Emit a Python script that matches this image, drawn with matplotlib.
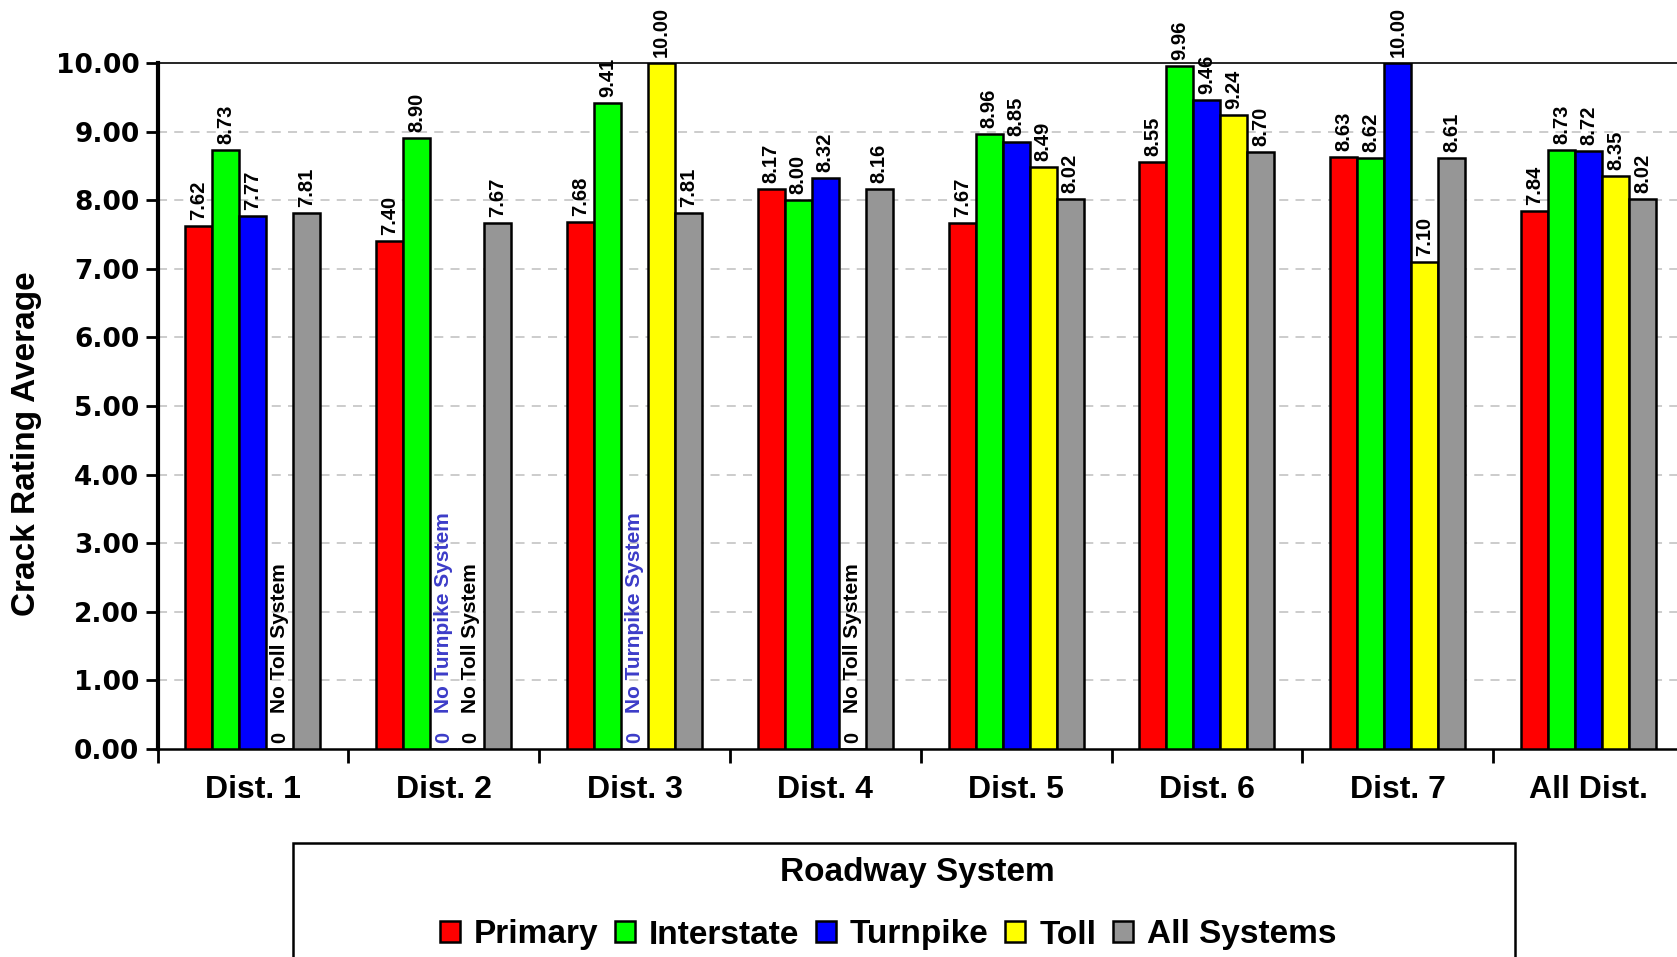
import numpy as np
import matplotlib
matplotlib.use("Agg")
import matplotlib.pyplot as plt
from matplotlib.patches import Rectangle

districts = ['Dist. 1', 'Dist. 2', 'Dist. 3', 'Dist. 4', 'Dist. 5', 'Dist. 6', 'Dist. 7', 'All Dist.']
systems = ['Primary', 'Interstate', 'Turnpike', 'Toll', 'All Systems']
primary = [7.62, 7.40, 7.68, 8.17, 7.67, 8.55, 8.63, 7.84]
interstate = [8.73, 8.90, 9.41, 8.00, 8.96, 9.96, 8.62, 8.73]
turnpike = [7.77, 0, 0, 8.32, 8.85, 9.46, 10.00, 8.72]
toll = [0, 0, 10.00, 0, 8.49, 9.24, 7.10, 8.35]
all_systems = [7.81, 7.67, 7.81, 8.16, 8.02, 8.70, 8.61, 8.02]
colors = ['#ff0000', '#00ff00', '#0000ff', '#ffff00', '#969696']
# text shown where a district has no such system
notes = {2: ('No Turnpike System', '#3c3cc8'), 3: ('No Toll System', 'black')}
yticks = [0, 1, 2, 3, 4, 5, 6, 7, 8, 9, 10]

plt.rcParams['font.family'] = ['Liberation Sans', 'DejaVu Sans']
plt.rcParams['font.weight'] = 'bold'

W, H = 1677, 957
fig = plt.figure(figsize=(W / 100, H / 100), dpi=100)
ax = fig.add_axes([157.5 / W, 1 - 749 / H, 1526.5 / W, 686 / H])

series = [primary, interstate, turnpike, toll, all_systems]
x = np.arange(len(districts))
w = 0.1415
bars = []
for k, vals in enumerate(series):
    pos = x + (k - 2) * w
    b = ax.bar(pos, vals, w, color=colors[k], edgecolor='black', linewidth=1.8, zorder=3)
    bars.append(b)
    for xi, v in zip(pos, vals):
        if v == 0:
            note, col = notes[k]
            ax.annotate('0', (xi, 0), xytext=(0, 6), textcoords='offset pixels',
                        rotation=90, ha='center', va='bottom', fontsize=14.5, color=col,
                        annotation_clip=False)
            ax.annotate(note, (xi, 0), xytext=(0, 36), textcoords='offset pixels',
                        rotation=90, ha='center', va='bottom', fontsize=15, color=col,
                        annotation_clip=False)
        else:
            ax.annotate('%.2f' % v, (xi, v), xytext=(0, 6), textcoords='offset pixels',
                        rotation=90, ha='center', va='bottom', fontsize=14.5,
                        annotation_clip=False)

ax.set_xlim(-0.5, len(districts) - 0.5)
ax.set_ylim(0, 10)
ax.set_yticks(yticks)
ax.set_yticklabels(['%.2f' % t for t in yticks], fontfamily='DejaVu Sans', fontsize=19, fontweight='bold')
ax.tick_params(axis='y', length=9, width=2, pad=4)

# boundary ticks between districts, names in the middle
ax.set_xticks(np.arange(len(districts) + 1) - 0.5)
ax.set_xticklabels([])
ax.tick_params(axis='x', which='major', length=10, width=2)
ax.set_xticks(x, minor=True)
ax.set_xticklabels(districts, minor=True, fontsize=23, fontweight='bold')
ax.tick_params(axis='x', which='minor', length=0, pad=19)

ax.set_ylabel('Crack Rating Average', fontsize=24, fontweight='bold', ha='center', va='center')
ax.yaxis.set_label_coords(-0.0855, 0.445)

for t in yticks[1:-1]:
    ax.axhline(t, color='#c8c8c8', lw=1.3, ls=(0, (5, 4)), zorder=1)

ax.spines['left'].set_linewidth(3)
ax.spines['bottom'].set_linewidth(1.8)
ax.spines['top'].set_linewidth(1.2)
ax.spines['right'].set_visible(False)

# legend box (runs off the bottom of the picture)
fig.add_artist(Rectangle((292.7 / W, -0.05), (1515 - 292.7) / W, 0.05 + (957 - 842.7) / H,
                         transform=fig.transFigure, fill=False, ec='black', lw=1.8))
fig.text(917 / W, 1 - 872 / H, 'Roadway System', ha='center', va='center',
         fontsize=24, fontweight='bold')
fig.legend(bars, systems, ncol=5, loc='center', bbox_to_anchor=(888 / W, 1 - 935 / H),
           frameon=False, prop={'size': 24, 'weight': 'bold'}, handlelength=0.6,
           handleheight=0.6, handletextpad=0.42, columnspacing=0.5)

fig.savefig('out.png', dpi=100)
